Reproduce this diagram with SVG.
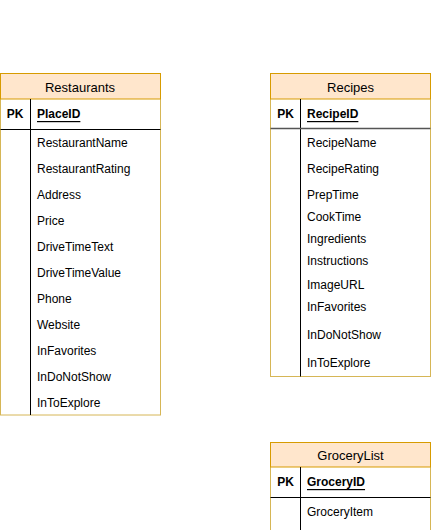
<svg xmlns="http://www.w3.org/2000/svg" width="436" height="530" viewBox="0 0 436 530">
<style>
.hdr{fill:#ffe6cc;stroke:#d79b00;stroke-width:1}
.body{fill:#ffffff;stroke:#d6b656;stroke-width:1}
.ln{stroke:#000000;stroke-width:1;fill:none}
.title{font-family:"Liberation Sans",Arial,sans-serif;font-size:13px;fill:#000;text-anchor:middle;dominant-baseline:central}
.pk{font-family:"Liberation Sans",Arial,sans-serif;font-size:12px;font-weight:bold;fill:#000;text-anchor:middle;dominant-baseline:central}
.key{font-family:"Liberation Sans",Arial,sans-serif;font-size:12px;font-weight:bold;fill:#000;text-decoration:underline;dominant-baseline:central}
.f{font-family:"Liberation Sans",Arial,sans-serif;font-size:12px;fill:#000;dominant-baseline:central}
</style>
<rect width="436" height="530" fill="#ffffff"/>
<g id="restaurants">
<rect class="body" x="0.5" y="73.5" width="160" height="341.5"/>
<rect class="hdr" x="0.5" y="73.5" width="160" height="25.5"/>
<text class="title" x="80" y="87">Restaurants</text>
<line class="ln" x1="30.5" y1="99" x2="30.5" y2="415"/>
<line class="ln" x1="0.5" y1="129.5" x2="160.5" y2="129.5"/>
<text class="pk" x="15" y="114">PK</text>
<text class="key" x="37" y="114">PlaceID</text>
<text class="f" x="37" y="143">RestaurantName</text>
<text class="f" x="37" y="169">RestaurantRating</text>
<text class="f" x="37" y="195">Address</text>
<text class="f" x="37" y="221">Price</text>
<text class="f" x="37" y="247">DriveTimeText</text>
<text class="f" x="37" y="273">DriveTimeValue</text>
<text class="f" x="37" y="299">Phone</text>
<text class="f" x="37" y="325">Website</text>
<text class="f" x="37" y="351">InFavorites</text>
<text class="f" x="37" y="377">InDoNotShow</text>
<text class="f" x="37" y="403">InToExplore</text>
</g>
<g id="recipes">
<rect class="body" x="270.5" y="73.5" width="160" height="303"/>
<rect class="hdr" x="270.5" y="73.5" width="160" height="25.5"/>
<text class="title" x="350.5" y="87">Recipes</text>
<line class="ln" x1="300.5" y1="99" x2="300.5" y2="376.5"/>
<line x1="270.5" y1="128.5" x2="430.5" y2="128.5" stroke="#555555" stroke-width="1.5"/>
<text class="pk" x="285.5" y="114">PK</text>
<text class="key" x="307" y="114">RecipeID</text>
<text class="f" x="307" y="143">RecipeName</text>
<text class="f" x="307" y="169">RecipeRating</text>
<text class="f" x="307" y="195">PrepTime</text>
<text class="f" x="307" y="217">CookTime</text>
<text class="f" x="307" y="239">Ingredients</text>
<text class="f" x="307" y="261">Instructions</text>
<text class="f" x="307" y="285">ImageURL</text>
<text class="f" x="307" y="307">InFavorites</text>
<text class="f" x="307" y="335">InDoNotShow</text>
<text class="f" x="307" y="363">InToExplore</text>
</g>
<g id="grocerylist">
<rect class="body" x="270.5" y="442.5" width="160" height="100"/>
<rect class="hdr" x="270.5" y="442.5" width="160" height="24.5"/>
<text class="title" x="350.5" y="455">GroceryList</text>
<line class="ln" x1="300.5" y1="467" x2="300.5" y2="530"/>
<line class="ln" x1="270.5" y1="497.5" x2="430.5" y2="497.5"/>
<text class="pk" x="285.5" y="482">PK</text>
<text class="key" x="307" y="482">GroceryID</text>
<text class="f" x="307" y="512">GroceryItem</text>
</g>
<g id="connectors"></g>
</svg>
